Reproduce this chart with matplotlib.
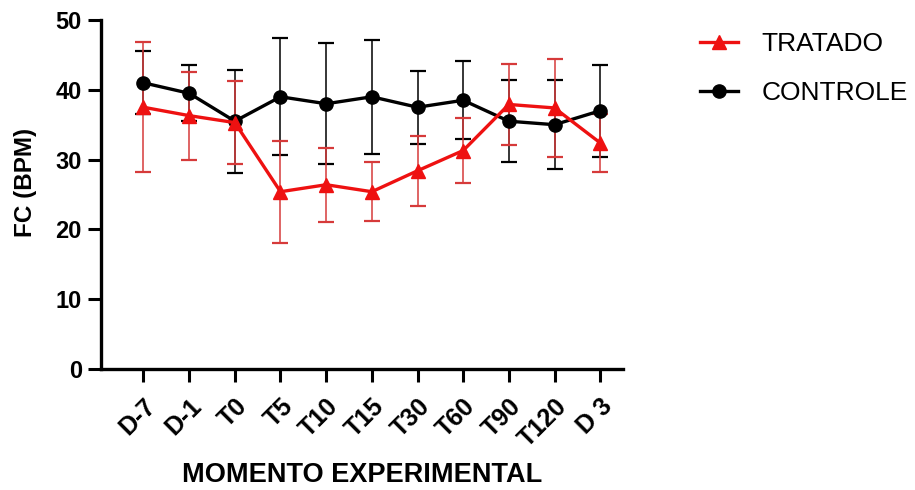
import matplotlib
matplotlib.use("Agg")
import matplotlib.pyplot as plt
from matplotlib.lines import Line2D

plt.rcParams['font.family'] = ['Liberation Sans', 'DejaVu Sans']

categories = ["D-7", "D-1", "T0", "T5", "T10", "T15", "T30", "T60", "T90", "T120", "D 3"]
tratado_mean = [37.5, 36.3, 35.3, 25.4, 26.4, 25.4, 28.4, 31.3, 37.9, 37.4, 32.4]
tratado_err = [9.3, 6.3, 5.9, 7.3, 5.3, 4.2, 5.0, 4.6, 5.8, 7.0, 4.2]
controle_mean = [41.0, 39.5, 35.5, 39.0, 38.0, 39.0, 37.5, 38.5, 35.5, 35.0, 37.0]
controle_err = [4.5, 4.0, 7.4, 8.4, 8.7, 8.2, 5.2, 5.6, 5.9, 6.4, 6.6]
yticks = [0, 10, 20, 30, 40, 50]

fig = plt.figure(figsize=(9.15, 4.9), dpi=100)
ax = fig.add_axes([0.1104, 0.2469, 0.5705, 0.7123])

x = list(range(len(categories)))

RED = '#ee1111'
ax.errorbar(x, controle_mean, yerr=controle_err, fmt='none', ecolor='black',
            elinewidth=1.1, capsize=6, capthick=1.6, zorder=2)
ax.errorbar(x, tratado_mean, yerr=tratado_err, fmt='none', ecolor='#d63a3a',
            elinewidth=1.1, capsize=6, capthick=1.6, zorder=3)
ax.plot(x, controle_mean, color='black', lw=2.4, marker='o', ms=9.5, zorder=4)
ax.plot(x, tratado_mean, color=RED, lw=2.4, marker='^', ms=9.5, zorder=5)

ax.set_xlim(-0.93, 10.5)
ax.set_ylim(0, 50)
ax.set_yticks(yticks)
ax.set_xticks(x)
ax.set_xticklabels(categories, rotation=45, ha='right', rotation_mode='anchor',
                   fontsize=18, fontweight='bold')
for lab in ax.get_yticklabels():
    lab.set_fontsize(17)
    lab.set_fontweight('bold')

for s in ['top', 'right']:
    ax.spines[s].set_visible(False)
for s in ['left', 'bottom']:
    ax.spines[s].set_linewidth(2.4)
ax.tick_params(axis='both', direction='out', width=2.2, length=9.4)
ax.tick_params(axis='y', pad=4.3)
ax.tick_params(axis='x', pad=8.5)

ax.set_ylabel('FC (BPM)', fontsize=17.5, fontweight='bold')
ax.yaxis.set_label_coords(-0.122, 0.536)
ax.set_xlabel('MOMENTO EXPERIMENTAL', fontsize=19.5, fontweight='bold')
ax.xaxis.set_label_coords(0.5, -0.266)

handles = [Line2D([0], [0], color=RED, lw=2.4, marker='^', ms=9.5),
           Line2D([0], [0], color='black', lw=2.4, marker='o', ms=9.5)]
fig.legend(handles, ['TRATADO', 'CONTROLE'], loc='upper left',
           bbox_to_anchor=(0.765, 0.934), frameon=False, fontsize=19,
           handlelength=1.45, handletextpad=0.88, labelspacing=0.95,
           borderpad=0, borderaxespad=0)

fig.savefig('out.png', dpi=100)
